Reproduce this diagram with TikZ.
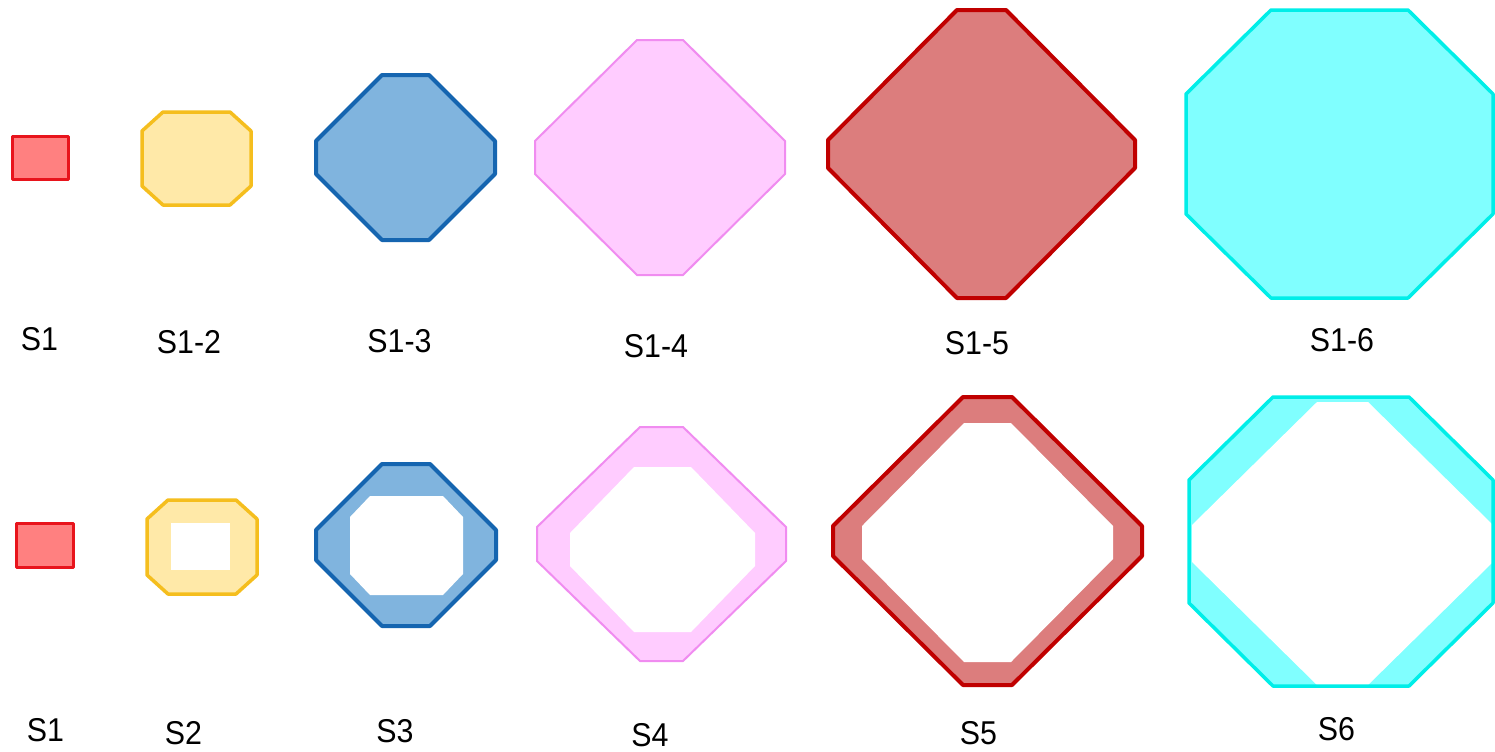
\documentclass[tikz,border=0pt]{standalone}
\usepackage{fontspec}
\setmainfont{Liberation Sans}
\definecolor{redS}{RGB}{232,20,28}
\definecolor{redF}{RGB}{255,128,128}
\definecolor{yelS}{RGB}{245,190,30}
\definecolor{yelF}{RGB}{255,233,168}
\definecolor{bluS}{RGB}{21,101,176}
\definecolor{bluF}{RGB}{128,180,222}
\definecolor{pnkS}{RGB}{240,140,240}
\definecolor{pnkF}{RGB}{255,204,255}
\definecolor{drdS}{RGB}{192,0,0}
\definecolor{drdF}{RGB}{220,125,125}
\definecolor{cyS}{RGB}{0,238,232}
\definecolor{cyF}{RGB}{128,255,255}
% #1 left, #2 right, #3 top, #4 bottom, #5 horizontal chamfer, #6 vertical chamfer, #7 style
\newcommand{\octshape}[7]{\path[#7] (#1+#5,#3) -- (#2-#5,#3) -- (#2,#3+#6) -- (#2,#4-#6) -- (#2-#5,#4) -- (#1+#5,#4) -- (#1,#4-#6) -- (#1,#3+#6) -- cycle;}
\begin{document}
\begin{tikzpicture}[x=0.5pt,y=-0.5pt,line join=round,
  lbl/.style={font=\fontsize{16.5}{19}\selectfont, anchor=base, inner sep=0pt, xscale=0.92},
  redfill/.style={fill=redF}, redline/.style={draw=redS,line width=1.5pt},
  yelfill/.style={fill=yelF}, yelline/.style={draw=yelS,line width=1.75pt},
  blufill/.style={fill=bluF}, bluline/.style={draw=bluS,line width=2pt},
  pnkfill/.style={fill=pnkF}, pnkline/.style={draw=pnkS,line width=1pt},
  drdfill/.style={fill=drdF}, drdline/.style={draw=drdS,line width=2pt},
  cyfill/.style={fill=cyF}, cyline/.style={draw=cyS,line width=1.75pt},
  hole/.style={fill=white}]
\fill[white] (0,0) rectangle (1495,751);
\useasboundingbox (0,0) rectangle (1495,751);

% ---------- top row ----------
\path[redfill,redline] (12,136) rectangle (68,179);
\octshape{142}{251}{112}{205}{21}{19}{yelfill,yelline}
\octshape{316}{495}{75}{240}{66}{66}{blufill,bluline}
\octshape{535}{785}{40}{275}{102}{101}{pnkfill,pnkline}
\octshape{828}{1135}{10}{298}{129}{130}{drdfill,drdline}
\octshape{1186}{1493}{10}{298}{85}{84}{cyfill,cyline}

\node[lbl] (t1) at (39.5,350) {S1};
\node[lbl] (t2) at (189,353) {S1-2};
\node[lbl] (t3) at (399.5,352) {S1-3};
\node[lbl] (t4) at (656,357) {S1-4};
\node[lbl] (t5) at (977,354) {S1-5};
\node[lbl] (t6) at (1342,351) {S1-6};

% ---------- bottom row ----------
\path[redfill,redline] (16,523) rectangle (73,567);

\octshape{147}{257}{500}{594}{21}{19}{yelfill}
\path[hole] (171,523) rectangle (230,570);
\octshape{147}{257}{500}{594}{21}{19}{yelline}

\octshape{316}{496}{464}{626}{66}{66}{blufill}
\octshape{350}{463}{496}{595}{20}{21}{hole}
\octshape{316}{496}{464}{626}{66}{66}{bluline}

\octshape{537}{786}{427}{661}{103}{100}{pnkfill}
\octshape{570}{755}{467}{632}{64}{66}{hole}
\octshape{537}{786}{427}{661}{103}{100}{pnkline}

\octshape{833}{1142}{397}{685}{130}{129}{drdfill}
\octshape{862}{1113}{423}{662}{102}{103}{hole}
\octshape{833}{1142}{397}{685}{130}{129}{drdline}

\octshape{1189}{1493}{397}{686}{84}{83}{cyfill}
\octshape{1192}{1493}{402}{685}{125}{123}{hole}
\octshape{1189}{1493}{397}{686}{84}{83}{cyline}

\node[lbl] (b1) at (45.5,741) {S1};
\node[lbl] (b2) at (183.5,744) {S2};
\node[lbl] (b3) at (395,742) {S3};
\node[lbl] (b4) at (650,746) {S4};
\node[lbl] (b5) at (978.5,744) {S5};
\node[lbl] (b6) at (1336.5,740) {S6};
\end{tikzpicture}
\end{document}
